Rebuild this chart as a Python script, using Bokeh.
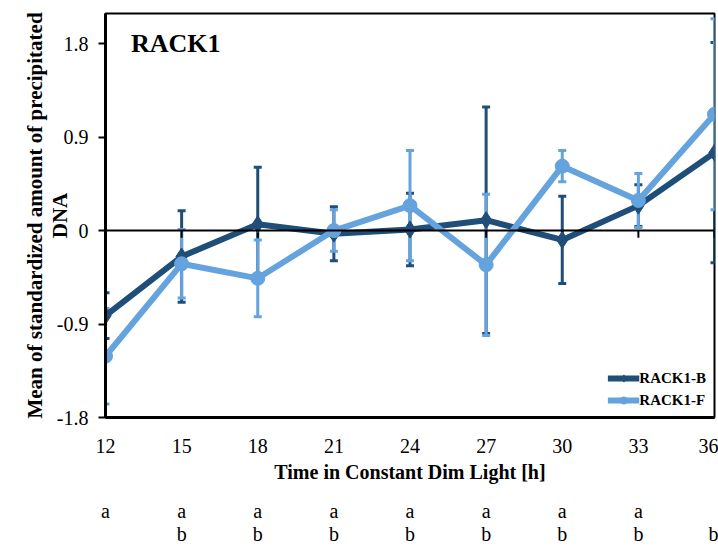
from bokeh.plotting import figure
from bokeh.models import (ColumnDataSource, Range1d, FixedTicker, LinearAxis, Span,
                          Whisker, TeeHead, Label, Legend, LegendItem)
from bokeh.embed import file_html
from bokeh.resources import INLINE

# ---- data ----
hours = [12, 15, 18, 21, 24, 27, 30, 33, 36]
b_mean = [-0.82, -0.25, 0.06, -0.03, 0.01, 0.10, -0.09, 0.24, 0.75]
b_err = [0.22, 0.44, 0.55, 0.26, 0.35, 1.09, 0.42, 0.20, 1.06]
f_mean = [-1.21, -0.32, -0.46, 0.00, 0.24, -0.33, 0.62, 0.29, 1.12]
f_err = [0.46, 0.33, 0.37, 0.20, 0.53, 0.68, 0.15, 0.26, 0.92]
y_ticks = [-1.8, -0.9, 0, 0.9, 1.8]
y_tick_labels = ["-1.8", "-0.9", "0", "0.9", "1.8"]
row_a = ["a", "a", "a", "a", "a", "a", "a", "a", ""]
row_b = ["", "b", "b", "b", "b", "b", "b", "b", "b"]
series_names = ["RACK1-B", "RACK1-F"]
title_text = "RACK1"

DARK = "#1f4e79"
LIGHT = "#64a3de"
SERIF = "Liberation Serif"

p = figure(width=718, height=550, output_backend="svg", toolbar_location=None,
           x_range=Range1d(12, 36), y_range=Range1d(-1.8, 2.09),
           min_border_left=105, min_border_right=4, min_border_top=13,
           min_border_bottom=133)
p.outline_line_color = "black"
p.outline_line_width = 2
p.xgrid.visible = False
p.ygrid.visible = False
p.background_fill_color = "white"
p.border_fill_color = "white"

# y axis
ya = p.yaxis[0]
ya.ticker = FixedTicker(ticks=y_ticks)
ya.major_label_overrides = {t: l for t, l in zip(y_ticks, y_tick_labels)}
ya.axis_line_width = 3
ya.axis_line_color = "black"
ya.major_tick_out = 7
ya.major_tick_in = 0
ya.major_tick_line_width = 2
ya.major_tick_line_color = "black"
ya.minor_tick_line_color = None
ya.major_label_text_font = SERIF
ya.major_label_text_font_size = "20px"
ya.major_label_text_color = "black"
ya.major_label_standoff = 10
ya.axis_label = "Mean of standardized amount of precipitated\nDNA"
ya.axis_label_text_font = SERIF
ya.axis_label_text_font_style = "bold"
ya.axis_label_text_font_size = "21px"
ya.axis_label_text_color = "black"
ya.axis_label_text_line_height = 1.05
ya.axis_label_standoff = -18

# x axis
xa = p.xaxis[0]
xa.ticker = FixedTicker(ticks=hours)
xa.axis_line_width = 3
xa.axis_line_color = "black"
xa.major_tick_line_color = None
xa.minor_tick_line_color = None
xa.major_label_text_font = SERIF
xa.major_label_text_font_size = "20px"
xa.major_label_text_color = "black"
xa.major_label_standoff = 15
xa.axis_label = "Time in Constant Dim Light [h]"
xa.axis_label_text_font = SERIF
xa.axis_label_text_font_style = "bold"
xa.axis_label_text_font_size = "20px"
xa.axis_label_text_color = "black"
xa.axis_label_standoff = 5

# letter rows as extra axes
for labels, standoff in ((row_a, 8), (row_b, -8)):
    ax = LinearAxis(ticker=FixedTicker(ticks=hours),
                    major_label_overrides={h: l for h, l in zip(hours, labels)},
                    axis_line_color=None, major_tick_line_color=None,
                    minor_tick_line_color=None,
                    major_label_text_font=SERIF, major_label_text_font_size="20px",
                    major_label_text_color="black",
                    major_label_standoff=standoff)
    p.add_layout(ax, "below")

# zero line with ticks
p.add_layout(Span(location=0, dimension="width", line_color="black", line_width=2))
p.segment(x0=hours, y0=[0] * len(hours), x1=hours, y1=[-0.07] * len(hours),
          line_color="black", line_width=2)

items = []
for name, mean, err, color, marker, msize in (
        (series_names[0], b_mean, b_err, DARK, "diamond", 17),
        (series_names[1], f_mean, f_err, LIGHT, "circle", 14)):
    src = ColumnDataSource(dict(x=hours, y=mean,
                                up=[m + e for m, e in zip(mean, err)],
                                lo=[m - e for m, e in zip(mean, err)]))
    w = Whisker(base="x", upper="up", lower="lo", source=src, dimension="height",
                line_color=color, line_width=3,
                upper_head=TeeHead(size=8, line_color=color, line_width=3),
                lower_head=TeeHead(size=8, line_color=color, line_width=3))
    p.add_layout(w)
    ln = p.line("x", "y", source=src, line_color=color, line_width=6)
    sc = p.scatter("x", "y", source=src, marker=marker, size=msize,
                   fill_color=color, line_color=color)
    items.append(LegendItem(label=name, renderers=[ln, sc]))

legend = Legend(items=items, location="bottom_right", border_line_color=None,
                background_fill_alpha=0, label_text_font=SERIF,
                label_text_font_style="bold", label_text_font_size="15px",
                label_text_color="black",
                glyph_width=32, glyph_height=18, label_standoff=0, spacing=4,
                margin=8, padding=2)
p.add_layout(legend)

p.add_layout(Label(x=13.0, y=1.8, text=title_text, text_font=SERIF,
                   text_font_style="bold", text_font_size="26px",
                   text_baseline="middle", text_color="black"))

open("out.html", "w").write(file_html(p, INLINE))
